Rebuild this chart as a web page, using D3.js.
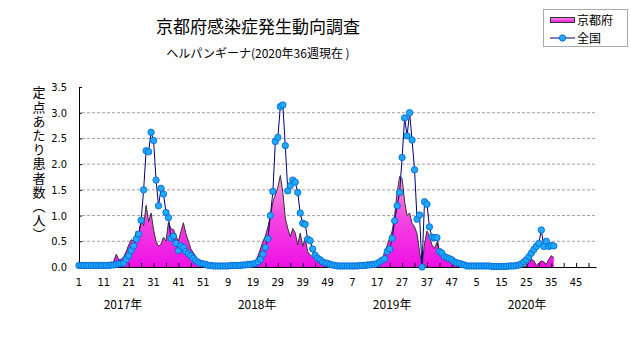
<!DOCTYPE html>
<html>
<head>
<meta charset="utf-8">
<script src="https://cdn.jsdelivr.net/npm/d3@7"></script>
<style>
  body { margin: 0; background: #fff; }
  svg { display: block; }
  .jp { font-family: "Noto Sans CJK JP", sans-serif; }
  .num { font-family: "Liberation Sans Narrow", "DejaVu Sans Condensed", sans-serif; font-size: 11px; }
</style>
</head>
<body>
<svg id="chart"></svg>
<script>
// data
const years = [2017, 2018, 2019, 2020];
const weeksPerYear = [52, 52, 52, 53];

const kyoto2017 = [0,0,0,0,0,0,0,0,0,0,0,0,0,0.03,0.12,0.25,0.14,0.15,0.2,0.3,0.43,0.53,0.5,0.69,0.62,0.9,0.8,1.2,0.88,1.05,0.72,0.5,0.4,0.45,0.58,0.5,0.87,0.74,0.73,0.6,0.5,0.69,0.86,0.65,0.5,0.35,0.28,0.2,0.12,0.06,0.02,0];
const kyoto2018 = [0,0,0,0,0,0,0,0,0,0,0,0,0,0,0,0,0,0,0.02,0.1,0.22,0.35,0.5,0.6,0.78,1.0,1.27,1.4,1.55,1.78,1.45,0.95,0.75,0.59,0.75,0.66,0.43,0.66,0.4,0.56,0.3,0.23,0.2,0.15,0.1,0.07,0.04,0.02,0,0,0,0];
const kyoto2019 = [0,0,0,0,0,0,0,0,0,0,0,0,0,0,0,0,0.03,0.08,0.15,0.3,0.42,0.56,0.7,1.0,1.45,1.76,1.72,1.27,1.0,1.05,0.85,0.78,0.65,0.3,0,0.45,0.7,0.6,0.43,0.36,0.48,0.3,0.24,0.2,0.15,0.1,0.07,0.04,0.02,0,0,0];
const kyoto2020 = [0,0,0,0,0,0,0,0,0,0,0,0,0,0,0,0,0,0,0,0,0,0,0,0,0.02,0.08,0.15,0.12,0.03,0.08,0.12,0.1,0.05,0.15,0.22,0.18];

const national2017 = [0.03,0.03,0.03,0.03,0.03,0.03,0.03,0.03,0.03,0.03,0.03,0.03,0.03,0.04,0.04,0.05,0.06,0.07,0.08,0.15,0.22,0.32,0.41,0.54,0.64,0.91,1.5,2.26,2.24,2.62,2.46,1.69,1.19,1.53,1.42,1.06,0.96,0.56,0.6,0.46,0.32,0.41,0.38,0.3,0.26,0.22,0.17,0.12,0.09,0.07,0.06,0.05];
const national2018 = [0.03,0.03,0.02,0.02,0.02,0.02,0.02,0.02,0.02,0.03,0.03,0.03,0.03,0.03,0.04,0.04,0.05,0.05,0.06,0.07,0.1,0.15,0.25,0.38,0.55,1.0,1.47,2.44,2.52,3.12,3.15,2.36,1.48,1.58,1.69,1.65,1.45,1.05,0.85,0.83,0.54,0.51,0.35,0.23,0.17,0.14,0.1,0.08,0.07,0.05,0.04,0.03];
const national2019 = [0.02,0.02,0.02,0.02,0.02,0.02,0.02,0.02,0.02,0.03,0.03,0.03,0.04,0.04,0.05,0.05,0.07,0.1,0.13,0.16,0.3,0.35,0.56,0.9,1.19,1.45,2.13,2.9,2.55,3.0,2.47,1.89,0.93,1.01,0,1.27,1.22,0.78,0.58,0.57,0.57,0.3,0.27,0.2,0.18,0.16,0.14,0.1,0.08,0.07,0.05,0.04];
const national2020 = [0.02,0.02,0.02,0.02,0.02,0.02,0.02,0.02,0.02,0.02,0.01,0.01,0.01,0.01,0.01,0.01,0.01,0.02,0.02,0.02,0.03,0.04,0.06,0.1,0.14,0.2,0.27,0.34,0.4,0.46,0.72,0.4,0.5,0.4,0.42,0.41];

const yTicks = [0, 0.5, 1.0, 1.5, 2.0, 2.5, 3.0, 3.5];
const yearLabelAt = [17.7, 71.7, 126, 180.3]; // week index under which each year label sits

const kyoto = [].concat(kyoto2017, kyoto2018, kyoto2019, kyoto2020);
const national = [].concat(national2017, national2018, national2019, national2020);

const width = 631, height = 347;
const totalWeeks = d3.sum(weeksPerYear);
const yearStart = d3.cumsum([0].concat(weeksPerYear.slice(0, -1)));

function weekLabel(i) {
  let y = d3.bisectRight(yearStart, i) - 1;
  return i - yearStart[y] + 1;
}

const svg = d3.select('#chart').attr('width', width).attr('height', height);

const x = d3.scaleLinear().domain([0, totalWeeks - 1]).range([79, 596]);
const y = d3.scaleLinear().domain([0, 3.5]).range([267, 87]);

// gradient for area
const defs = svg.append('defs');
const grad = defs.append('linearGradient')
  .attr('id', 'pinkGrad')
  .attr('gradientUnits', 'userSpaceOnUse')
  .attr('x1', 0).attr('x2', 0)
  .attr('y1', y(0)).attr('y2', y(1.8));
grad.append('stop').attr('offset', '0%').attr('stop-color', '#ee10e6');
grad.append('stop').attr('offset', '55%').attr('stop-color', '#f548e0');
grad.append('stop').attr('offset', '100%').attr('stop-color', '#ffa0da');

const lgGrad = defs.append('linearGradient')
  .attr('id', 'legGrad')
  .attr('x1', 0).attr('x2', 0).attr('y1', 1).attr('y2', 0);
lgGrad.append('stop').attr('offset', '0%').attr('stop-color', '#ee10e6');
lgGrad.append('stop').attr('offset', '100%').attr('stop-color', '#ff90dc');

// grid lines
svg.append('g')
  .selectAll('line')
  .data(yTicks.filter(d => d > 0 && d < 3.5))
  .join('line')
  .attr('x1', x(0) + 3).attr('x2', x(totalWeeks - 1))
  .attr('y1', d => y(d)).attr('y2', d => y(d))
  .attr('stroke', '#a89aa8')
  .attr('stroke-width', 1)
  .attr('stroke-dasharray', '3,2');

// kyoto area
const area = d3.area()
  .x((d, i) => x(i))
  .y0(y(0))
  .y1(d => y(d));
svg.append('path')
  .datum(kyoto)
  .attr('fill', 'url(#pinkGrad)')
  .attr('d', area);
svg.append('path')
  .datum(kyoto)
  .attr('fill', 'none')
  .attr('stroke', '#333')
  .attr('stroke-width', 1)
  .attr('d', d3.line().x((d, i) => x(i)).y(d => y(d)));

// axes
const xAxis = d3.axisBottom(x)
  .tickValues(d3.range(0, totalWeeks, 5))
  .tickSizeInner(-4).tickSizeOuter(0)
  .tickFormat('');
const gx = svg.append('g').attr('transform', `translate(0,${y(0)})`).call(xAxis);
gx.select('.domain').attr('stroke', '#000');
gx.selectAll('.tick line').attr('stroke', '#000');

svg.append('g')
  .attr('class', 'num')
  .selectAll('text')
  .data(d3.range(0, totalWeeks, 10))
  .join('text')
  .attr('x', d => x(d))
  .attr('y', 286)
  .attr('text-anchor', 'middle')
  .text(d => weekLabel(d));

const yAxis = d3.axisLeft(y)
  .tickValues(yTicks)
  .tickSizeInner(-3).tickSizeOuter(0)
  .tickPadding(12)
  .tickFormat(d3.format('.1f'));
const gy = svg.append('g').attr('transform', `translate(${x(0)},0)`).call(yAxis);
gy.select('.domain').attr('stroke', '#000');
gy.selectAll('.tick line').attr('stroke', '#000');
gy.selectAll('.tick text')
  .attr('class', 'num')
  .attr('font-family', null).attr('font-size', null)
  .attr('fill', '#000');

// national line + markers
svg.append('path')
  .datum(national)
  .attr('fill', 'none')
  .attr('stroke', '#000080')
  .attr('stroke-width', 1)
  .attr('d', d3.line().x((d, i) => x(i)).y(d => y(d)));
svg.append('g')
  .selectAll('circle')
  .data(national)
  .join('circle')
  .attr('cx', (d, i) => x(i))
  .attr('cy', d => y(d))
  .attr('r', 3.2)
  .attr('fill', '#1eaaff')
  .attr('stroke', '#0060d0')
  .attr('stroke-width', 0.8);

// year labels
svg.append('g')
  .attr('class', 'jp')
  .selectAll('text')
  .data(years)
  .join('text')
  .attr('x', (d, i) => x(yearLabelAt[i]))
  .attr('y', 309)
  .attr('text-anchor', 'middle')
  .attr('font-size', 12)
  .text(d => d + '年');

// titles
svg.append('text')
  .attr('class', 'jp')
  .attr('x', 258).attr('y', 33)
  .attr('text-anchor', 'middle')
  .attr('font-size', 17)
  .text('京都府感染症発生動向調査');
svg.append('text')
  .attr('class', 'jp')
  .attr('x', 258).attr('y', 58)
  .attr('text-anchor', 'middle')
  .attr('font-size', 12)
  .text('ヘルパンギーナ(2020年36週現在 )');

// y title, vertical
svg.append('text')
  .attr('class', 'jp')
  .attr('x', 39).attr('y', 86)
  .attr('font-size', 13)
  .style('writing-mode', 'vertical-rl')
  .style('letter-spacing', '1.2px')
  .text('定点あたり患者数（人）');

// legend
const lg = svg.append('g');
lg.append('rect')
  .attr('x', 543.5).attr('y', 9.5).attr('width', 84).attr('height', 37)
  .attr('fill', '#fff').attr('stroke', '#aaa');
lg.append('rect')
  .attr('x', 550.5).attr('y', 17.5).attr('width', 24).attr('height', 5)
  .attr('fill', 'url(#legGrad)').attr('stroke', '#333');
lg.append('text')
  .attr('class', 'jp')
  .attr('x', 577).attr('y', 25).attr('font-size', 12)
  .text('京都府');
lg.append('line')
  .attr('x1', 550).attr('x2', 575).attr('y1', 38).attr('y2', 38)
  .attr('stroke', '#000080');
lg.append('circle')
  .attr('cx', 562.5).attr('cy', 38).attr('r', 3.2)
  .attr('fill', '#1eaaff').attr('stroke', '#0060d0').attr('stroke-width', 0.8);
lg.append('text')
  .attr('class', 'jp')
  .attr('x', 577).attr('y', 43).attr('font-size', 12)
  .text('全国');
</script>
</body>
</html>
